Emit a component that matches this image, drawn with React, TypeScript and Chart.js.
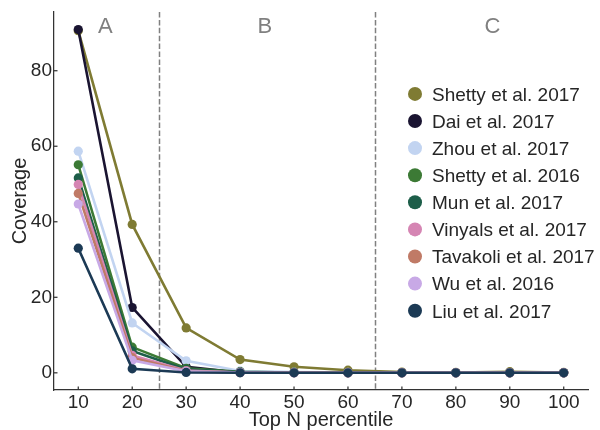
import React, { useEffect, useRef } from "react";
import { Chart, registerables } from "chart.js";

Chart.register(...registerables);

const xValues = [10, 20, 30, 40, 50, 60, 70, 80, 90, 100];
const seriesNames = [
  "Shetty et al. 2017",
  "Dai et al. 2017",
  "Zhou et al. 2017",
  "Shetty et al. 2016",
  "Mun et al. 2017",
  "Vinyals et al. 2017",
  "Tavakoli et al. 2017",
  "Wu et al. 2016",
  "Liu et al. 2017",
];
const seriesColors = [
  "#7f7b33",
  "#1a1431",
  "#c2d4f1",
  "#3c7a35",
  "#1d5e49",
  "#d585b3",
  "#c07a66",
  "#c8a9e6",
  "#1c3a55",
];
const shetty2017 = [90.6, 39.3, 11.9, 3.5, 1.6, 0.7, 0.2, 0.1, 0.3, 0.1];
const dai2017 = [90.9, 17.3, 1.6, 0.1, 0.05, 0, 0, 0, 0, 0];
const zhou2017 = [58.7, 13.2, 3.2, 0.5, 0.2, 0.1, 0.05, 0, 0, 0];
const shetty2016 = [55.1, 6.8, 1.2, 0.3, 0.1, 0.05, 0, 0, 0, 0];
const mun2017 = [51.6, 5.8, 0.9, 0.2, 0.1, 0, 0, 0, 0, 0];
const vinyals2017 = [49.9, 4.6, 0.6, 0.1, 0.05, 0, 0, 0, 0, 0];
const tavakoli2017 = [47.5, 4.0, 0.5, 0.1, 0.05, 0, 0, 0, 0, 0];
const wu2016 = [44.7, 3.3, 0.4, 0.1, 0, 0, 0, 0, 0, 0];
const liu2017 = [33.0, 1.05, 0.1, 0, 0, 0, 0, 0, 0, 0];
const seriesValues = [
  shetty2017,
  dai2017,
  zhou2017,
  shetty2016,
  mun2017,
  vinyals2017,
  tavakoli2017,
  wu2016,
  liu2017,
];
const yTicks = [0, 20, 40, 60, 80];
const xTicks = [10, 20, 30, 40, 50, 60, 70, 80, 90, 100];
const regionBounds = [25, 65];
const regionLabels = ["A", "B", "C"];
const regionLabelX = [15, 44.6, 86.8];

const FONT = "'Liberation Sans', Arial, sans-serif";
const TEXT = "#262626";
const AXIS = "#333333";

const overlayPlugin = {
  id: "overlay",
  beforeDatasetsDraw(chart: any) {
    const { ctx, chartArea, scales } = chart;
    ctx.save();
    ctx.strokeStyle = "#808080";
    ctx.lineWidth = 1.5;
    ctx.setLineDash([5.5, 2.4]);
    regionBounds.forEach((b) => {
      const px = Math.round(scales.x.getPixelForValue(b)) + 0.5;
      ctx.beginPath();
      ctx.moveTo(px, chartArea.top);
      ctx.lineTo(px, chartArea.bottom);
      ctx.stroke();
    });
    ctx.setLineDash([]);
    ctx.fillStyle = "#808080";
    ctx.font = `22px ${FONT}`;
    ctx.textAlign = "center";
    ctx.textBaseline = "alphabetic";
    regionLabels.forEach((l, i) => {
      ctx.fillText(l, scales.x.getPixelForValue(regionLabelX[i]), 33);
    });
    ctx.restore();
  },
  afterDraw(chart: any) {
    const { ctx, chartArea, scales } = chart;
    ctx.save();
    // inward tick marks
    ctx.strokeStyle = AXIS;
    ctx.lineWidth = 1.25;
    xTicks.forEach((t) => {
      const px = scales.x.getPixelForValue(t);
      ctx.beginPath();
      ctx.moveTo(px, chartArea.bottom);
      ctx.lineTo(px, chartArea.bottom - 3.5);
      ctx.stroke();
    });
    yTicks.forEach((t) => {
      const py = scales.y.getPixelForValue(t);
      ctx.beginPath();
      ctx.moveTo(chartArea.left, py);
      ctx.lineTo(chartArea.left + 3.5, py);
      ctx.stroke();
    });
    // axis titles
    ctx.fillStyle = TEXT;
    ctx.font = `20px ${FONT}`;
    ctx.textAlign = "center";
    ctx.textBaseline = "alphabetic";
    ctx.fillText("Top N percentile", (chartArea.left + chartArea.right) / 2, 426);
    ctx.save();
    ctx.translate(26, (chartArea.top + chartArea.bottom) / 2);
    ctx.rotate(-Math.PI / 2);
    ctx.fillText("Coverage", 0, 0);
    ctx.restore();
    // legend
    ctx.font = `19px ${FONT}`;
    ctx.textAlign = "left";
    seriesNames.forEach((name, i) => {
      const base = 100.7 + 27.1 * i;
      ctx.fillStyle = seriesColors[i];
      ctx.beginPath();
      ctx.arc(415, base - 6.8, 7, 0, Math.PI * 2);
      ctx.fill();
      ctx.fillStyle = TEXT;
      ctx.fillText(name, 432, base);
    });
    ctx.restore();
  },
};

export default function App() {
  const ref = useRef<HTMLCanvasElement | null>(null);
  useEffect(() => {
    document.body.style.margin = "0";
    if (!ref.current) return;
    const n = seriesNames.length;
    const chart = new Chart(ref.current, {
      type: "line",
      data: {
        datasets: seriesNames.map((name, i) => ({
          label: name,
          data: xValues.map((x, j) => ({ x, y: seriesValues[i][j] })),
          borderColor: seriesColors[i],
          backgroundColor: seriesColors[i],
          pointBackgroundColor: seriesColors[i],
          pointBorderWidth: 0,
          pointRadius: 4.6,
          borderWidth: 2.6,
          tension: 0,
          fill: false,
          order: n - i,
        })),
      },
      options: {
        animation: false,
        responsive: false,
        devicePixelRatio: 1,
        layout: { padding: { top: 12, right: 12, left: 0, bottom: 0 } },
        plugins: {
          legend: { display: false },
          tooltip: { enabled: false },
          title: { display: false },
        },
        scales: {
          x: {
            type: "linear",
            min: 5.5,
            max: 104.5,
            grid: { display: false, drawTicks: false },
            border: { display: true, color: AXIS, width: 1.25 },
            ticks: {
              color: TEXT,
              font: { family: FONT, size: 19 },
              padding: 1,
              maxRotation: 0,
              autoSkip: false,
            },
            afterBuildTicks: (scale: any) => {
              scale.ticks = xTicks.map((v) => ({ value: v }));
            },
            afterFit: (scale: any) => {
              scale.height = 40;
              scale.paddingLeft = 0;
              scale.paddingRight = 0;
            },
          },
          y: {
            type: "linear",
            min: -4.55,
            max: 95.55,
            grid: { display: false, drawTicks: false },
            border: { display: true, color: AXIS, width: 1.25 },
            ticks: {
              color: TEXT,
              font: { family: FONT, size: 19 },
              padding: 2,
              autoSkip: false,
            },
            afterBuildTicks: (scale: any) => {
              scale.ticks = yTicks.map((v) => ({ value: v }));
            },
            afterFit: (scale: any) => {
              scale.width = 54;
              scale.paddingTop = 0;
              scale.paddingBottom = 0;
            },
          },
        },
      },
      plugins: [overlayPlugin],
    } as any);
    return () => chart.destroy();
  }, []);
  return (
    <div style={{ width: 600, height: 430 }}>
      <canvas ref={ref} width={600} height={430} style={{ display: "block" }} />
    </div>
  );
}
